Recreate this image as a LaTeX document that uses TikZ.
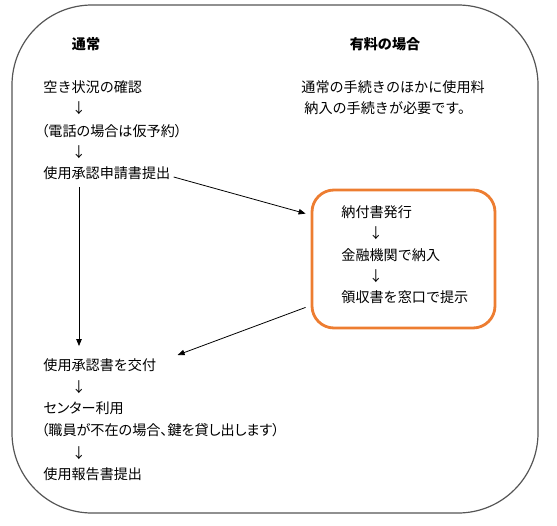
\documentclass[tikz,border=0pt]{standalone}
\usepackage{fontspec}
\setmainfont{Noto Sans CJK JP}
\newfontfamily\propfont[RawFeature=+palt]{Noto Sans CJK JP}
\usetikzlibrary{arrows.meta, positioning, calc}
\definecolor{corange}{HTML}{ED7D31}
\definecolor{cframe}{HTML}{555555}
\tikzset{
  every picture/.style={font=\fontsize{14.1}{16}\selectfont, line width=0.8pt},
  txt/.style={anchor=west, inner sep=0pt},
  ptxt/.style={txt, font=\fontsize{14.1}{16}\selectfont\propfont},
  head/.style={inner sep=0pt, font=\fontsize{14.1}{16}\selectfont\bfseries},
  dn/.style={inner sep=0pt},
  arrow/.style={-{Triangle[length=7pt, width=5.5pt]}, draw=black},
  frame/.style={draw=cframe, line width=1.2pt, rounded corners=80pt},
  paybox/.style={draw=corange, line width=2.8pt, rounded corners=22pt, minimum width=183pt, minimum height=138pt},
}
\begin{document}
\begin{tikzpicture}[x=1pt, y=-1pt]
  \useasboundingbox (0,0) rectangle (557,525);
  \draw[frame] (12,5) rectangle (538,513);

  \node[head] (normal) at (86,44) {通常};
  \node[head] (paid) at (385,44) {有料の場合};

  % left column
  \node[txt] (check) at (43,87) {空き状況の確認};
  \node[dn] (d1) at (79,108) {↓};
  \node[ptxt] (phone) at (41,131) {（電話の場合は仮予約）};
  \node[dn] (d2) at (79,152) {↓};
  \node[txt] (apply) at (43,173) {使用承認申請書提出};
  \node[txt] (issue) at (43,365) {使用承認書を交付};
  \node[dn] (d3) at (79,387) {↓};
  \node[ptxt] (use) at (43,408) {センター利用};
  \node[ptxt] (key) at (41,430) {（職員が不在の場合、鍵を貸し出します）};
  \node[dn] (d4) at (79,453) {↓};
  \node[txt] (report) at (43,474) {使用報告書提出};

  % right column
  \node[txt] (note1) at (301,87) {通常の手続きのほかに使用料};
  \node[txt] (note2) at (304,108) {納入の手続きが必要です。};
  \node[paybox] (pay) at (403.5,259) {};
  \node[txt] (slip) at (341,212) {納付書発行};
  \node[dn] (d5) at (376,233) {↓};
  \node[txt] (bank) at (341,255) {金融機関で納入};
  \node[dn] (d6) at (376,276) {↓};
  \node[txt] (show) at (341,297) {領収書を窓口で提示};

  \draw[arrow, shorten <=7pt, shorten >=12pt] (apply.south -| d2) -- (issue.north -| d2);
  \draw[arrow] ($(apply.east)+(3,4)$) -- ($(pay.north west)+(-5,25)$);
  \draw[arrow] ($(pay.south west)+(-5,-22)$) -- ($(issue.east)+(21,-10)$);
\end{tikzpicture}
\end{document}
